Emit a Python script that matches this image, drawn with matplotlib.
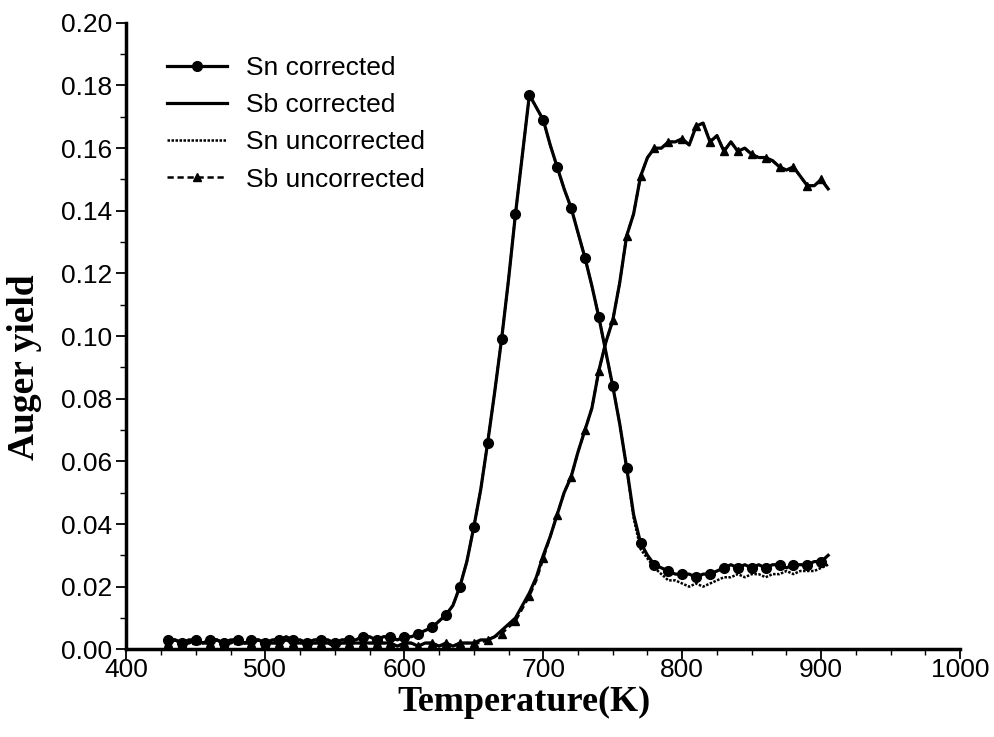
import numpy as np
import matplotlib
matplotlib.use("Agg")
import matplotlib.pyplot as plt
from matplotlib.ticker import MultipleLocator

# sampling grid (K)
temps = np.arange(430, 906, 5)

sn_corrected = [
    0.003, 0.003, 0.002, 0.003, 0.003, 0.002, 0.003, 0.003, 0.002, 0.003,
    0.003, 0.002, 0.003, 0.003, 0.002, 0.003, 0.003, 0.004, 0.003, 0.003,
    0.002, 0.003, 0.003, 0.003, 0.002, 0.003, 0.003, 0.003, 0.004, 0.004,
    0.003, 0.004, 0.004, 0.003, 0.004, 0.004, 0.005, 0.006, 0.007, 0.009,
    0.011, 0.014, 0.020, 0.028, 0.039, 0.051, 0.066, 0.082, 0.099, 0.118,
    0.139, 0.158, 0.177, 0.173, 0.169, 0.161, 0.154, 0.147, 0.141, 0.133,
    0.125, 0.116, 0.106, 0.095, 0.084, 0.072, 0.058, 0.043, 0.034, 0.030,
    0.027, 0.026, 0.025, 0.024, 0.024, 0.024, 0.023, 0.024, 0.024, 0.025,
    0.026, 0.027, 0.026, 0.027, 0.026, 0.027, 0.026, 0.027, 0.027, 0.026,
    0.027, 0.027, 0.027, 0.028, 0.028, 0.030,
]

sn_uncorrected = [
    0.003, 0.003, 0.002, 0.003, 0.003, 0.002, 0.003, 0.003, 0.002, 0.003,
    0.003, 0.002, 0.003, 0.003, 0.002, 0.003, 0.003, 0.004, 0.003, 0.003,
    0.002, 0.003, 0.003, 0.003, 0.002, 0.003, 0.003, 0.003, 0.004, 0.004,
    0.003, 0.004, 0.004, 0.003, 0.004, 0.004, 0.005, 0.006, 0.007, 0.009,
    0.011, 0.014, 0.020, 0.028, 0.039, 0.051, 0.066, 0.082, 0.099, 0.118,
    0.139, 0.158, 0.177, 0.173, 0.169, 0.161, 0.154, 0.147, 0.141, 0.133,
    0.125, 0.116, 0.106, 0.095, 0.084, 0.072, 0.058, 0.042, 0.032, 0.029,
    0.026, 0.024, 0.022, 0.022, 0.021, 0.020, 0.021, 0.020, 0.021, 0.022,
    0.023, 0.023, 0.024, 0.023, 0.024, 0.024, 0.023, 0.024, 0.024, 0.025,
    0.024, 0.025, 0.025, 0.025, 0.026, 0.027,
]

sb_corrected = [
    0.002, 0.003, 0.002, 0.002, 0.003, 0.002, 0.002, 0.003, 0.002, 0.002,
    0.003, 0.002, 0.002, 0.003, 0.002, 0.002, 0.002, 0.003, 0.002, 0.002,
    0.002, 0.002, 0.002, 0.002, 0.001, 0.002, 0.002, 0.002, 0.002, 0.002,
    0.002, 0.002, 0.002, 0.001, 0.002, 0.002, 0.001, 0.002, 0.002, 0.001,
    0.002, 0.001, 0.002, 0.002, 0.002, 0.003, 0.003, 0.004, 0.006, 0.008,
    0.010, 0.014, 0.018, 0.023, 0.030, 0.036, 0.043, 0.050, 0.055, 0.063,
    0.070, 0.077, 0.089, 0.098, 0.105, 0.117, 0.132, 0.139, 0.151, 0.157,
    0.160, 0.160, 0.162, 0.162, 0.163, 0.161, 0.167, 0.168, 0.162, 0.164,
    0.159, 0.162, 0.159, 0.160, 0.158, 0.157, 0.157, 0.156, 0.154, 0.153,
    0.154, 0.151, 0.148, 0.148, 0.150, 0.147,
]

sb_uncorrected = [
    0.002, 0.003, 0.002, 0.002, 0.003, 0.002, 0.002, 0.003, 0.002, 0.002,
    0.003, 0.002, 0.002, 0.003, 0.002, 0.002, 0.002, 0.003, 0.002, 0.002,
    0.002, 0.002, 0.002, 0.002, 0.001, 0.002, 0.002, 0.002, 0.002, 0.002,
    0.002, 0.002, 0.002, 0.001, 0.002, 0.002, 0.001, 0.002, 0.002, 0.001,
    0.002, 0.001, 0.002, 0.002, 0.002, 0.002, 0.003, 0.004, 0.005, 0.007,
    0.009, 0.013, 0.017, 0.022, 0.029, 0.036, 0.043, 0.050, 0.055, 0.063,
    0.070, 0.077, 0.089, 0.098, 0.105, 0.117, 0.132, 0.139, 0.151, 0.157,
    0.160, 0.160, 0.162, 0.162, 0.163, 0.161, 0.167, 0.168, 0.162, 0.164,
    0.159, 0.162, 0.159, 0.160, 0.158, 0.157, 0.157, 0.156, 0.154, 0.153,
    0.154, 0.151, 0.148, 0.148, 0.150, 0.147,
]

plt.rcParams['font.family'] = ['Liberation Sans', 'DejaVu Sans']

fig = plt.figure(figsize=(9.95, 7.37), dpi=100)
ax = fig.add_axes([0.127, 0.119, 0.838, 0.850])

ax.plot(temps, sn_corrected, color='black', lw=2.3, marker='o', ms=7,
        markevery=2, label='Sn corrected', zorder=5)
ax.plot(temps, sb_corrected, color='black', lw=2.3, label='Sb corrected', zorder=4)
ax.plot(temps, sn_uncorrected, color='black', lw=1.8, ls=(0, (1, 0.6)),
        label='Sn uncorrected', zorder=3)
ax.plot(temps, sb_uncorrected, color='black', lw=1.8, ls=(0, (2.5, 1.5)),
        marker='^', ms=6, markevery=2, label='Sb uncorrected', zorder=3)

ax.set_xlim(400, 1000)
ax.set_ylim(0, 0.20)
ax.xaxis.set_major_locator(MultipleLocator(100))
ax.xaxis.set_minor_locator(MultipleLocator(25))
ax.yaxis.set_major_locator(MultipleLocator(0.02))
ax.yaxis.set_minor_locator(MultipleLocator(0.01))
ax.yaxis.set_major_formatter(plt.FormatStrFormatter('%.2f'))

for side in ['top', 'right']:
    ax.spines[side].set_visible(False)
for side in ['left', 'bottom']:
    ax.spines[side].set_linewidth(2.5)

ax.tick_params(which='major', direction='out', length=7, width=1.3, labelsize=19)
ax.tick_params(which='minor', direction='out', length=4, width=1.0)
ax.tick_params(axis='x', which='major', pad=-1)

ax.set_xlabel('Temperature(K)', family='Liberation Serif', fontweight='bold',
              fontsize=26)
ax.xaxis.set_label_coords(0.477, -0.058)
ax.set_ylabel('Auger yield', family='Liberation Serif', fontweight='bold',
              fontsize=27)
ax.yaxis.set_label_coords(-0.101, 0.45)

ax.legend(loc='upper left', bbox_to_anchor=(0.02, 0.985), frameon=False,
          fontsize=19, handlelength=2.3, handletextpad=0.7, labelspacing=0.5)

fig.savefig('out.png', dpi=100)
